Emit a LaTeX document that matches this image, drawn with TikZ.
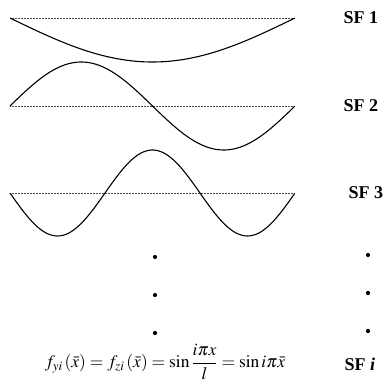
\documentclass[tikz,border=0pt]{standalone}
\usepackage{mathptmx}
\usepackage{fontspec}
\setmainfont{Liberation Serif}
\begin{document}
\begin{tikzpicture}[x=1pt,y=-1pt,
  base/.style={densely dotted,line width=0.5pt,black!70},
  wave/.style={line width=1.1pt,smooth,samples=120},
  sflabel/.style={font=\fontsize{18}{20}\selectfont\bfseries,anchor=west},
  dotmark/.style={circle,fill=black,inner sep=0pt,minimum size=4.2pt}]
\useasboundingbox (0,0) rectangle (389,382);
% baselines
\draw[base] (10,18) -- (295,18);
\draw[base] (10,106) -- (295,106);
\draw[base] (10,193) -- (295,193);
% waves
\draw[wave,domain=0:1] plot ({10+285*\x},{18+44*sin(180*\x)});
\draw[wave,domain=0:1] plot ({10+285*\x},{106-44*sin(360*\x)});
\draw[wave,domain=0:1] plot ({10+285*\x},{193+43*sin(540*\x)});
% labels
\node[sflabel] (sf1) at (340,18) {SF 1};
\node[sflabel] (sf2) at (340,106) {SF 2};
\node[sflabel] (sf3) at (345,193) {SF 3};
\node[sflabel] (sfi) at (341,364) {SF \textit{i}};
% dots
\node[dotmark] (d1) at (155,257) {};
\node[dotmark] (d2) at (155,295) {};
\node[dotmark] (d3) at (155,333) {};
\node[dotmark] (r1) at (368,255) {};
\node[dotmark] (r2) at (368,293) {};
\node[dotmark] (r3) at (368,331) {};
% formula
\node[font=\fontsize{17.5}{20}\selectfont,inner sep=0pt] (eq) at (165,362)
 {$\displaystyle f_{yi}\,(\bar{x})=f_{zi}\,(\bar{x})=\sin\frac{i\pi x}{l}=\sin i\pi\bar{x}$};
\end{tikzpicture}
\end{document}
